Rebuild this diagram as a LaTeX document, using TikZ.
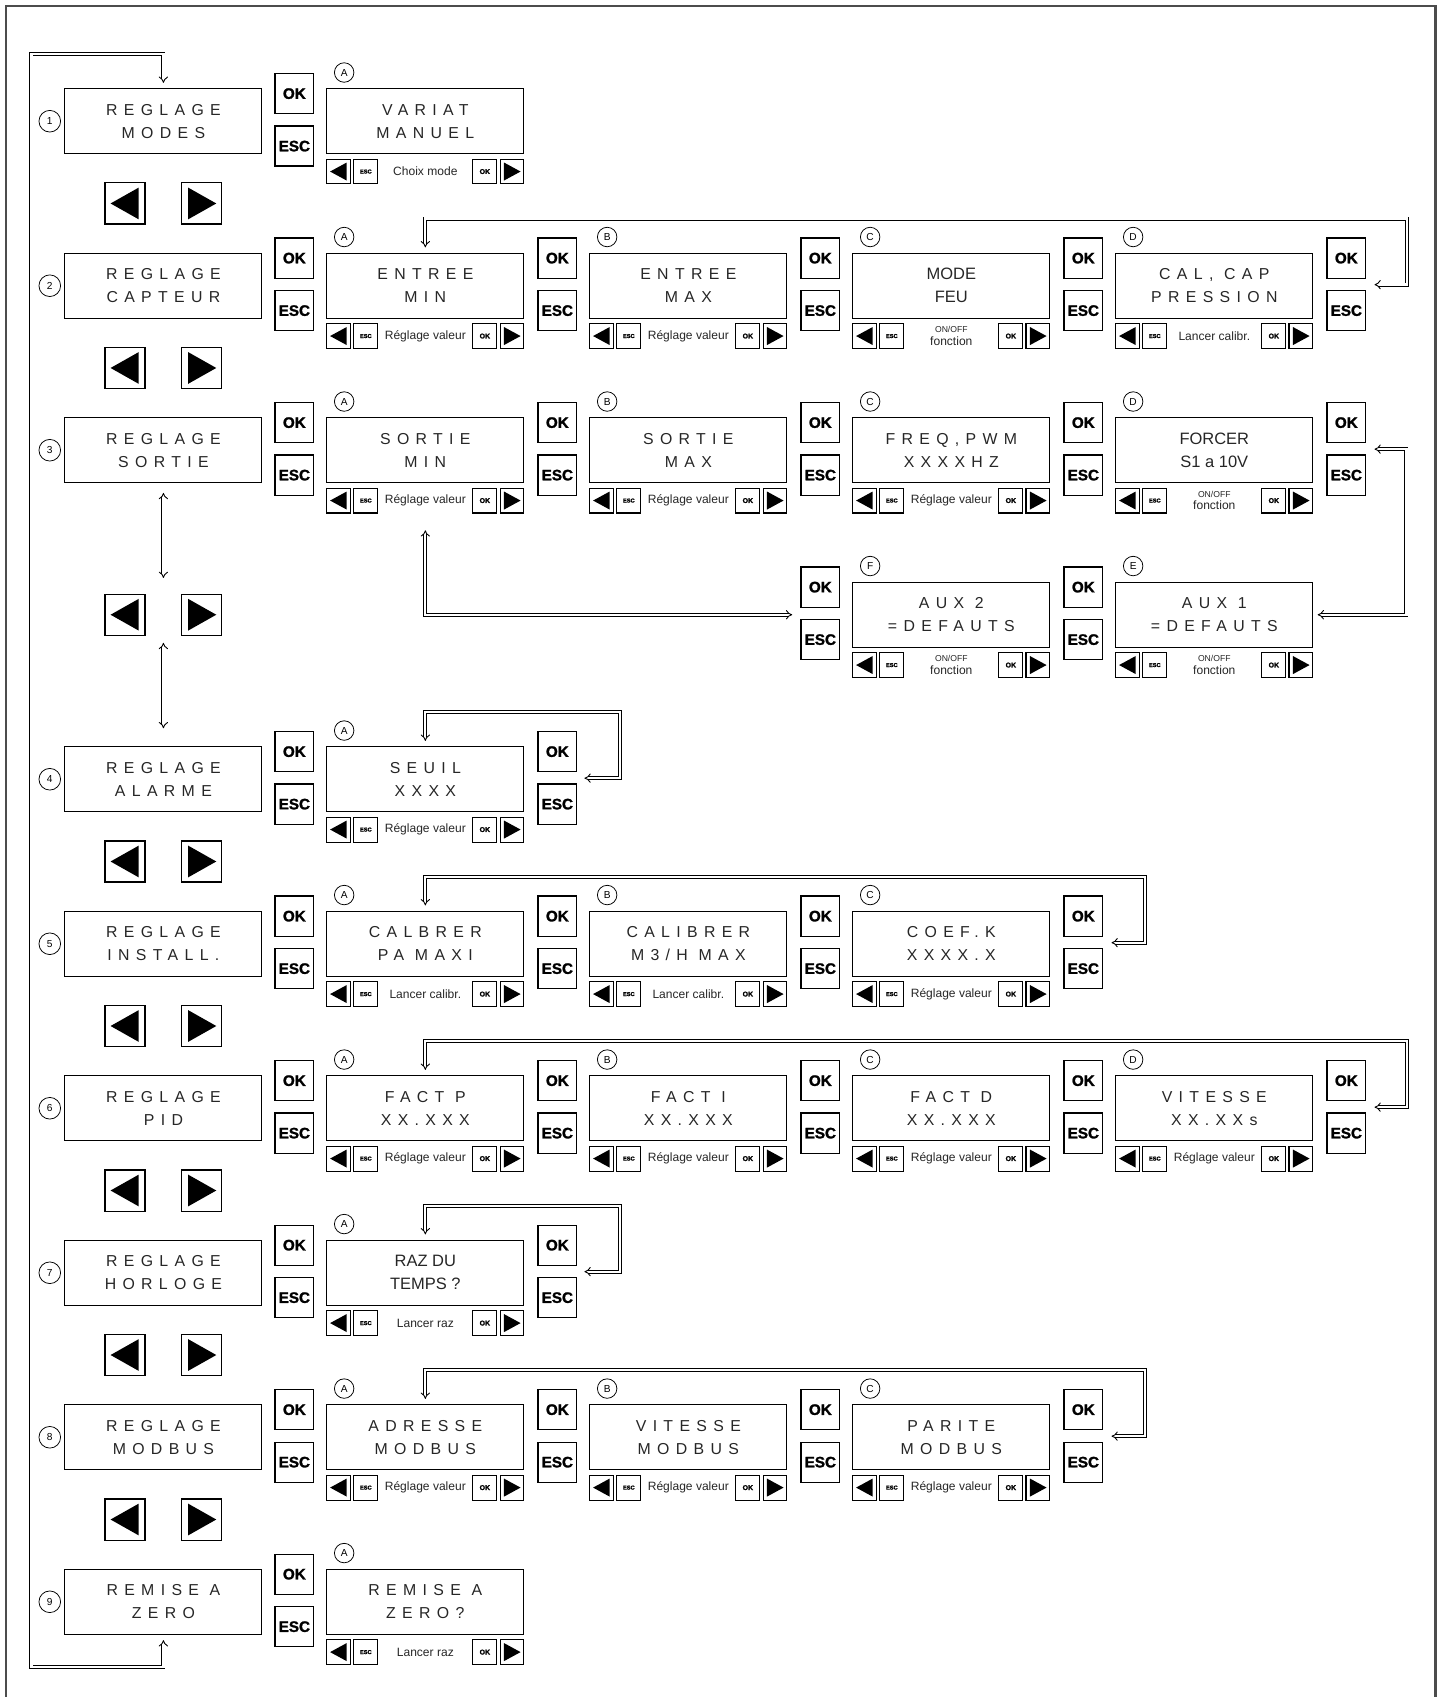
\documentclass[tikz,border=0pt]{standalone}
\usepackage{fontspec}
\setmainfont{Liberation Sans}
\newfontfamily\lcdfont[LetterSpace=40]{Liberation Sans}
\newfontfamily\touchefont{Liberation Sans}[BoldFeatures={FakeBold=1.5}]
\usetikzlibrary{positioning,arrows.meta,calc}

\newcommand{\onoff}{\fontsize{6.8}{7.8}\selectfont ON/OFF\\fonction}

\newcommand{\boutons}[3]{%
	\node[touche] (#1ok) at (#2,#3+4.5) {OK};
	\node[touche] (#1esc) at (#2,#3+53) {ESC};
}

\newcommand{\menu}[4]{%
	\node[lcd] (#1) at (151,#3+30) {#4};
	\node[rond, minimum size=0.6cm] (#1n) at (46,#3+30) {#2};
	\boutons{#1}{272}{#3}
}

\newcommand{\fleches}[2]{%
	\node[grandg] (#1g) at (115.5,#2) {};
	\node[grandd] (#1d) at (186.5,#2) {};
}

\newcommand{\ecran}[7][lcd]{%
	\node[#1] (#2) at (#3+91,#4+30) {#5};
	\node[rond] (#2c) at (#3+16,#4-15) {#7};
	\node[minig] (#2g) at (#3+11,#4+76.5) {};
	\node[minibtn, font=\touchefont\bfseries\fontsize{4.5}{4.5}\selectfont] (#2e) at (#3+36,#4+76.5) {ESC};
	\node[barre] (#2t) at (#3+91,#4+76.5) {#6};
	\node[minibtn, font=\touchefont\bfseries\fontsize{5.5}{5.5}\selectfont] (#2o) at (#3+146,#4+76.5) {OK};
	\node[minid] (#2d) at (#3+171,#4+76.5) {};
}

\begin{document}
\begin{tikzpicture}[x=0.03cm, y=-0.03cm,
	lcd/.style={draw, line width=0.8pt, minimum width=5.46cm, minimum height=1.8cm, inner sep=0,
		align=center, text=black!85, font=\lcdfont\fontsize{12.5}{18}\selectfont},
	lcdn/.style={lcd, font=\fontsize{13}{18}\selectfont},
	rond/.style={circle, draw, line width=0.6pt, minimum size=0.54cm, inner sep=0,
		font=\fontsize{8}{8}\selectfont},
	touche/.style={draw, line width=1pt, minimum width=1.08cm, minimum height=1.11cm, inner sep=0,
		font=\touchefont\bfseries\fontsize{12}{12}\selectfont},
	barre/.style={inner sep=0, align=center, text=black!85, font=\fontsize{9.5}{10}\selectfont},
	minibtn/.style={draw, line width=0.8pt, minimum width=0.66cm, minimum height=0.69cm, inner sep=0},
	minig/.style={minibtn, path picture={\fill ([xshift=-0.24cm]path picture bounding box.center)
		-- ++(0.46cm,0.25cm) -- ++(0,-0.5cm) -- cycle;}},
	minid/.style={minibtn, path picture={\fill ([xshift=0.24cm]path picture bounding box.center)
		-- ++(-0.46cm,0.25cm) -- ++(0,-0.5cm) -- cycle;}},
	grandg/.style={draw, line width=0.9pt, minimum width=1.11cm, minimum height=1.14cm, inner sep=0,
		path picture={\fill ([xshift=-0.4cm]path picture bounding box.center)
		-- ++(0.78cm,0.44cm) -- ++(0,-0.88cm) -- cycle;}},
	grandd/.style={draw, line width=0.9pt, minimum width=1.11cm, minimum height=1.14cm, inner sep=0,
		path picture={\fill ([xshift=0.4cm]path picture bounding box.center)
		-- ++(-0.78cm,0.44cm) -- ++(0,-0.88cm) -- cycle;}},
	lien/.style={double, line width=0.7pt, double distance=1.8pt, arrows={Implies-Implies}}]
	
	\useasboundingbox (0,0) rectangle (1334,1568);
	
	\draw[gray!60!black, line width=2pt] (5.5,1568) -- (5.5,5.5) -- (1326.5,5.5) -- (1326.5,1568);
	
	\menu{m1}{1}{82}{REGLAGE\\MODES}
	\menu{m2}{2}{234}{REGLAGE\\CAPTEUR}
	\menu{m3}{3}{386}{REGLAGE\\SORTIE}
	\menu{m4}{4}{690}{REGLAGE\\ALARME}
	\menu{m5}{5}{842}{REGLAGE\\INSTALL.}
	\menu{m6}{6}{994}{REGLAGE\\PID}
	\menu{m7}{7}{1146}{REGLAGE\\HORLOGE}
	\menu{m8}{8}{1298}{REGLAGE\\MODBUS}
	\menu{m9}{9}{1450}{REMISE A\\ZERO}
	
	\fleches{f12}{188}
	\fleches{f23}{340}
	\fleches{f34}{568}
	\fleches{f45}{796}
	\fleches{f56}{948}
	\fleches{f67}{1100}
	\fleches{f78}{1252}
	\fleches{f89}{1404}
	
	\ecran{a1}{302}{82}{VARIAT\\MANUEL}{Choix mode}{A}
	
	\ecran{a2}{302}{234}{ENTREE\\MIN}{R\'eglage valeur}{A}
	\boutons{a2}{515}{234}
	\ecran{b2}{545}{234}{ENTREE\\MAX}{R\'eglage valeur}{B}
	\boutons{b2}{758}{234}
	\ecran[lcdn]{c2}{788}{234}{MODE\\FEU}{\onoff}{C}
	\boutons{c2}{1001}{234}
	\ecran{d2}{1031}{234}{CAL, CAP\\PRESSION}{Lancer calibr.}{D}
	\boutons{d2}{1244}{234}
	
	\ecran{a3}{302}{386}{SORTIE\\MIN}{R\'eglage valeur}{A}
	\boutons{a3}{515}{386}
	\ecran{b3}{545}{386}{SORTIE\\MAX}{R\'eglage valeur}{B}
	\boutons{b3}{758}{386}
	\ecran{c3}{788}{386}{FREQ,PWM\\XXXXHZ}{R\'eglage valeur}{C}
	\boutons{c3}{1001}{386}
	\ecran[lcdn]{d3}{1031}{386}{FORCER\\S1 a 10V}{\onoff}{D}
	\boutons{d3}{1244}{386}
	
	\boutons{f3}{758}{538}
	\ecran{f3}{788}{538}{AUX 2\\=DEFAUTS}{\onoff}{F}
	\boutons{e3}{1001}{538}
	\ecran{e3}{1031}{538}{AUX 1\\=DEFAUTS}{\onoff}{E}
	
	\ecran{a4}{302}{690}{SEUIL\\XXXX}{R\'eglage valeur}{A}
	\boutons{a4}{515}{690}
	
	\ecran{a5}{302}{842}{CALBRER\\PA MAXI}{Lancer calibr.}{A}
	\boutons{a5}{515}{842}
	\ecran{b5}{545}{842}{CALIBRER\\M3/H MAX}{Lancer calibr.}{B}
	\boutons{b5}{758}{842}
	\ecran{c5}{788}{842}{COEF.K\\XXXX.X}{R\'eglage valeur}{C}
	\boutons{c5}{1001}{842}
	
	\ecran{a6}{302}{994}{FACT P\\XX.XXX}{R\'eglage valeur}{A}
	\boutons{a6}{515}{994}
	\ecran{b6}{545}{994}{FACT I\\XX.XXX}{R\'eglage valeur}{B}
	\boutons{b6}{758}{994}
	\ecran{c6}{788}{994}{FACT D\\XX.XXX}{R\'eglage valeur}{C}
	\boutons{c6}{1001}{994}
	\ecran{d6}{1031}{994}{VITESSE\\XX.XXs}{R\'eglage valeur}{D}
	\boutons{d6}{1244}{994}
	
	\ecran[lcdn]{a7}{302}{1146}{RAZ DU\\TEMPS ?}{Lancer raz}{A}
	\boutons{a7}{515}{1146}
	
	\ecran{a8}{302}{1298}{ADRESSE\\MODBUS}{R\'eglage valeur}{A}
	\boutons{a8}{515}{1298}
	\ecran{b8}{545}{1298}{VITESSE\\MODBUS}{R\'eglage valeur}{B}
	\boutons{b8}{758}{1298}
	\ecran{c8}{788}{1298}{PARITE\\MODBUS}{R\'eglage valeur}{C}
	\boutons{c8}{1001}{1298}
	
	\ecran{a9}{302}{1450}{REMISE A\\ZERO?}{Lancer raz}{A}
	
	\coordinate (h3) at (151,534);
	\coordinate (h4) at (151,594);
	\coordinate (r2) at (1270,263);
	\coordinate (r3) at (1270,415);
	\coordinate (s3) at (393,490);
	\coordinate (t3) at (732,568);
	\coordinate (r4) at (540,719);
	\coordinate (r5) at (1027,871);
	\coordinate (r6) at (1270,1023);
	\coordinate (r7) at (540,1175);
	\coordinate (r8) at (1027,1327);
	
	\draw[lien, shorten <=0.15cm, shorten >=0.15cm] (m9.south) -- ++(0,30) -| (29,50) -| (m1.north);
	
	\draw[lien, shorten <=0.27cm] (m3.south) -- (h3);
	\draw[lien, shorten >=0.5cm] (h4) -- (m4.north);
	
	\draw[lien, shorten <=0.15cm] (a2.north) |- (1300,202) |- (r2);
	\draw[lien, shorten >=0.12cm] (r3) -| ($(e3.east)+(86,0)$) -- (e3.east);
	\draw[lien] (s3) |- (t3);
	\draw[lien, shorten <=0.15cm] (a4.north) |- (573,658) |- (r4);
	\draw[lien, shorten <=0.15cm] (a5.north) |- (1058,810) |- (r5);
	\draw[lien, shorten <=0.15cm] (a6.north) |- (1300,962) |- (r6);
	\draw[lien, shorten <=0.15cm] (a7.north) |- (573,1114) |- (r7);
	\draw[lien, shorten <=0.15cm] (a8.north) |- (1058,1266) |- (r8);
	
\end{tikzpicture}
\end{document}
